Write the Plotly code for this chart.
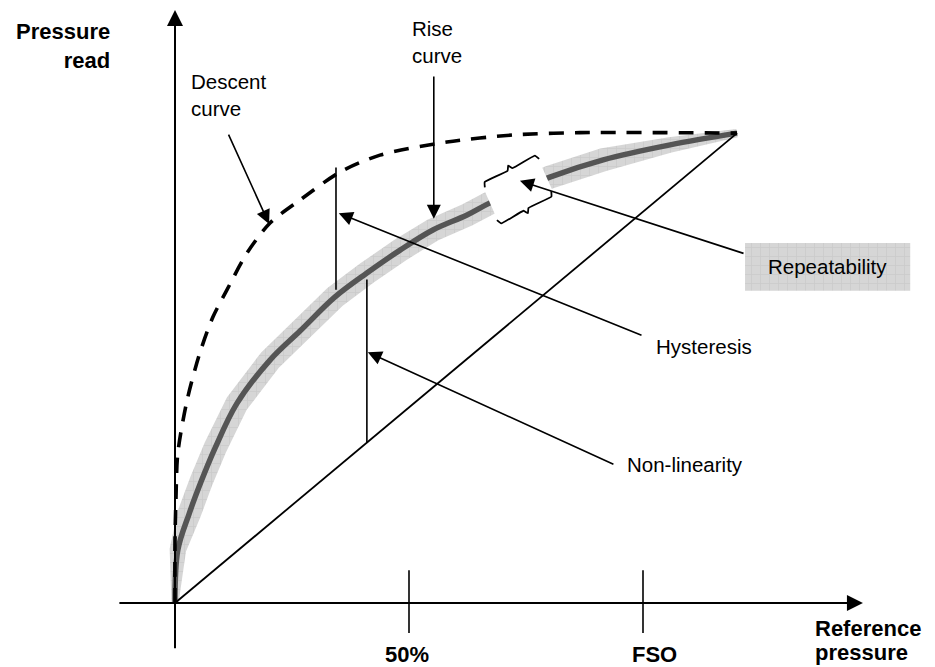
import numpy as np
import plotly.graph_objects as go

# ---------------- data (units: % of FSO on both axes) ----------------
RISE_X = [0, 0.6, 3.0, 5.6, 8.6, 13.2, 20.3, 26.7, 34.2, 41.0, 48.1, 55.1, 62.4, 67.3, 80.1, 91.5, 105.8, 120.1]
RISE_Y = [0, 11.3, 19.0, 26.0, 33.2, 42.6, 51.9, 58.1, 65.4, 70.5, 75.4, 79.7, 82.9, 85.5, 91.0, 94.7, 97.9, 100.4]

DESC_X = [0, 0.0, 0.2, 0.6, 2.6, 5.3, 8.1, 11.1, 15.4, 20.3, 26.7, 35.3, 43.8, 58.1, 72.2, 86.5, 120.1]
DESC_Y = [0, 13.5, 22.0, 32.0, 43.4, 53.4, 61.1, 66.9, 74.8, 81.2, 86.1, 92.1, 95.7, 98.5, 100.0, 100.5, 100.4]

LINEAR_X = [0, 120.1]
LINEAR_Y = [0, 100.4]

TICK_VALUES = [50, 100]
TICK_LABELS = ["50%", "FSO"]
TICK_LABEL_X = [49.5, 102.4]

HYSTERESIS_X = 34.4
NONLIN_X = 41.0

# ---------------- page geometry ----------------
W, H = 935, 667
U = 4.68                      # pixels per unit
OX, OY = 175, 603             # origin in pixels
XR = [-OX / U, (W - OX) / U]
YR = [(OY - H) / U, OY / U]

FONT = "Liberation Sans, Arial, Helvetica, sans-serif"
REG = 20.5
BOLD = 22
BAND_BG = "#d6d6d6"
PATTERN = dict(shape="+", bgcolor=BAND_BG, fgcolor="#bdbdbd", size=9, solidity=0.15)

fig = go.Figure()

rx, ry = np.array(RISE_X), np.array(RISE_Y)

# band around rise curve (repeatability band), tapered at both ends
s = np.concatenate([[0], np.cumsum(np.hypot(np.diff(rx), np.diff(ry)))])
dx, dy = np.gradient(rx), np.gradient(ry)
ln = np.hypot(dx, dy)
nx, ny = -dy / ln, dx / ln
hw = 2.5 * np.clip(s / 16, 0.3, 1.0) * np.clip((s[-1] - s) / 22, 0.35, 1.0)
bx = np.concatenate([rx + nx * hw, (rx - nx * hw)[::-1]])
by = np.concatenate([ry + ny * hw, (ry - ny * hw)[::-1]])
fig.add_trace(go.Scatter(
    x=bx, y=by, mode="lines", fill="toself", line=dict(width=0),
    fillcolor=BAND_BG, fillpattern=PATTERN,
    hoverinfo="skip", showlegend=False))

# rise curve
fig.add_trace(go.Scatter(x=RISE_X, y=RISE_Y, mode="lines",
                         line=dict(color="#555555", width=5.5, shape="spline", smoothing=1.0),
                         hoverinfo="skip", showlegend=False))

# descent curve
fig.add_trace(go.Scatter(x=DESC_X, y=DESC_Y, mode="lines",
                         line=dict(color="black", width=3.6, dash="15px,11px", shape="spline", smoothing=0.8),
                         hoverinfo="skip", showlegend=False))

# linear reference
fig.add_trace(go.Scatter(x=LINEAR_X, y=LINEAR_Y, mode="lines",
                         line=dict(color="black", width=1.8),
                         hoverinfo="skip", showlegend=False))

# white gap for the repeatability bracket
GAP_X = [65.8, 77.6, 80.8, 69.0, 65.8]
GAP_Y = [88.9, 95.0, 87.8, 81.6, 88.9]
fig.add_trace(go.Scatter(x=GAP_X, y=GAP_Y, mode="lines", fill="toself",
                         fillcolor="white", line=dict(width=0),
                         hoverinfo="skip", showlegend=False))


def brace(p0, p1, inward, d=0.9):
    p0, p1 = np.array(p0), np.array(p1)
    t = (p1 - p0) / np.linalg.norm(p1 - p0)
    n = np.array(inward) / np.linalg.norm(inward)
    m = (p0 + p1) / 2
    pts = [p0 + n * d, p0 + t * 0.5 - n * 0.15, m - t * 0.6, m - n * d, m + t * 0.6,
           p1 - t * 0.5 - n * 0.15, p1 + n * d]
    pts = np.array(pts)
    return pts[:, 0], pts[:, 1]


for p0, p1, inward in [((65.8, 89.6), (77.4, 95.7), (0.45, -0.89)),
                       ((69.2, 81.0), (80.8, 87.2), (-0.45, 0.89))]:
    xb, yb = brace(p0, p1, inward)
    fig.add_trace(go.Scatter(x=xb, y=yb, mode="lines",
                             line=dict(color="black", width=1.8, shape="spline", smoothing=0.3),
                             hoverinfo="skip", showlegend=False))

# hysteresis & non-linearity vertical segments
h_top = np.interp(HYSTERESIS_X, DESC_X[3:], DESC_Y[3:]) + 1.6
h_bot = np.interp(HYSTERESIS_X, RISE_X, RISE_Y) + 1.4
fig.add_trace(go.Scatter(x=[HYSTERESIS_X, HYSTERESIS_X], y=[h_bot, h_top], mode="lines",
                         line=dict(color="black", width=1.6), hoverinfo="skip", showlegend=False))
n_top = np.interp(NONLIN_X, RISE_X, RISE_Y) - 1.4
n_bot = np.interp(NONLIN_X, LINEAR_X, LINEAR_Y)
fig.add_trace(go.Scatter(x=[NONLIN_X, NONLIN_X], y=[n_bot, n_top], mode="lines",
                         line=dict(color="black", width=1.6), hoverinfo="skip", showlegend=False))

# ticks
for tv in TICK_VALUES:
    fig.add_trace(go.Scatter(x=[tv, tv], y=[-6.4, 7.0], mode="lines",
                             line=dict(color="black", width=1.6), hoverinfo="skip", showlegend=False))

# repeatability label box
REP_BOX_X = [121.8, 157.1, 157.1, 121.8, 121.8]
REP_BOX_Y = [76.9, 76.9, 66.7, 66.7, 76.9]
fig.add_trace(go.Scatter(
    x=REP_BOX_X, y=REP_BOX_Y, mode="lines", fill="toself", line=dict(width=0),
    fillcolor=BAND_BG, fillpattern=PATTERN,
    hoverinfo="skip", showlegend=False))

annotations = []


def arrow(tail, tip, width=1.6, size=1.75):
    annotations.append(dict(x=tip[0], y=tip[1], ax=tail[0], ay=tail[1],
                            xref="x", yref="y", axref="x", ayref="y",
                            text="", showarrow=True, arrowhead=2,
                            arrowsize=size, arrowwidth=width, arrowcolor="black"))


def label(text, x, y, size=REG, bold=False, xanchor="left", align="left"):
    t = f"<b>{text}</b>" if bold else text
    annotations.append(dict(x=x, y=y, xref="x", yref="y", text=t, showarrow=False,
                            xanchor=xanchor, yanchor="middle", align=align,
                            font=dict(family=FONT, size=size, color="black")))


# axes
arrow((-12.2, 0), (147.0, 0), width=2, size=1.6)
arrow((0, -10.0), (0, 126.7), width=2, size=1.6)

# callouts
arrow((11.3, 100.4), (20.1, 81.0))
arrow((55.3, 112.8), (55.3, 82.1))
arrow((100.0, 57.1), (35.0, 83.3))
arrow((94.0, 29.5), (41.2, 53.6))
arrow((121.8, 74.6), (73.7, 90.2))

label("Descent<br>curve", 3.0, 108.6)
label("Rise<br>curve", 50.3, 119.8)
label("Hysteresis", 102.3, 54.9)
label("Non-linearity", 96.1, 29.5)
label("Repeatability", 139.4, 72.0, xanchor="center", align="center")

label("Pressure<br>read", -13.5, 119.0, size=BOLD, bold=True, xanchor="right", align="right")
label("Reference", 136.4, -5.5, size=BOLD, bold=True)
label("pressure", 136.4, -10.5, size=BOLD, bold=True)
for lx, lt in zip(TICK_LABEL_X, TICK_LABELS):
    label(lt, lx, -10.9, size=BOLD, bold=True, xanchor="center", align="center")

fig.update_layout(
    width=W, height=H,
    margin=dict(l=0, r=0, t=0, b=0),
    paper_bgcolor="white", plot_bgcolor="white",
    xaxis=dict(range=XR, visible=False, fixedrange=True),
    yaxis=dict(range=YR, visible=False, fixedrange=True),
    annotations=annotations,
    showlegend=False,
)

fig.write_html(
    "out.html",
    config={"displayModeBar": False},
    post_script="document.body.style.margin='0';document.body.style.padding='0';"
                "document.body.style.overflow='hidden';",
)
